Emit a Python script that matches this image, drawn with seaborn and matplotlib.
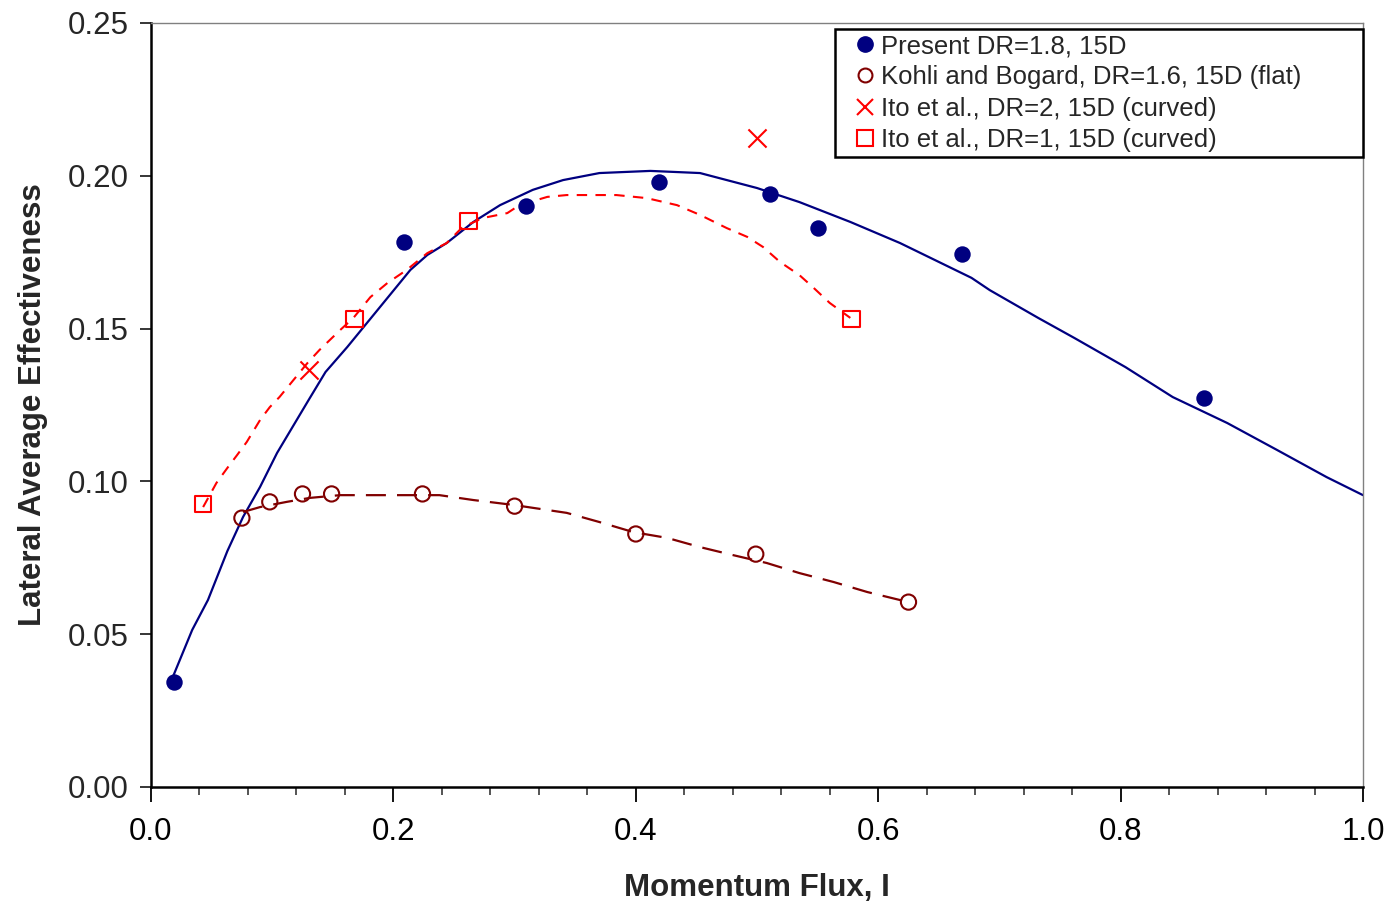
import matplotlib
matplotlib.use("Agg")
import matplotlib.pyplot as plt
import seaborn as sns
import pandas as pd
from matplotlib.ticker import MultipleLocator, FormatStrFormatter
from matplotlib.lines import Line2D

# ---- data ----
present_x = [0.019, 0.209, 0.309, 0.419, 0.511, 0.550, 0.669, 0.869]
present_y = [0.0344, 0.1783, 0.190, 0.198, 0.194, 0.183, 0.1744, 0.1273]

kohli_x = [0.075, 0.098, 0.125, 0.149, 0.224, 0.300, 0.400, 0.499, 0.625]
kohli_y = [0.088, 0.0933, 0.0959, 0.0959, 0.0959, 0.0919, 0.0828, 0.0762, 0.0605]

ito2_x = [0.130, 0.500]
ito2_y = [0.1365, 0.2124]

ito1_x = [0.043, 0.168, 0.262, 0.578]
ito1_y = [0.0926, 0.1531, 0.1852, 0.1531]

# trend curves
present_fit_x = [0.018, 0.034, 0.047, 0.063, 0.076, 0.090, 0.104, 0.130, 0.144, 0.162,
                 0.214, 0.228, 0.244, 0.266, 0.288, 0.315, 0.340, 0.370, 0.412, 0.453,
                 0.500, 0.535, 0.577, 0.618, 0.677, 0.692, 0.732, 0.762, 0.804, 0.843,
                 0.888, 0.929, 0.970, 1.000]
present_fit_y = [0.0360, 0.0514, 0.0612, 0.0772, 0.0884, 0.0982, 0.1093, 0.1266, 0.1358, 0.1440,
                 0.1692, 0.1741, 0.1780, 0.1849, 0.1904, 0.1954, 0.1986, 0.2009, 0.2016, 0.2009,
                 0.1960, 0.1914, 0.1849, 0.1780, 0.1666, 0.1626, 0.1535, 0.1469, 0.1374, 0.1276,
                 0.1191, 0.1103, 0.1014, 0.0955]

ito1_fit_x = [0.043, 0.054, 0.063, 0.071, 0.079, 0.090, 0.098, 0.106, 0.129, 0.139,
              0.156, 0.167, 0.181, 0.195, 0.211, 0.228, 0.244, 0.257, 0.274, 0.294,
              0.304, 0.327, 0.343, 0.384, 0.409, 0.434, 0.453, 0.475, 0.492, 0.505,
              0.519, 0.535, 0.546, 0.560, 0.577]
ito1_fit_y = [0.0916, 0.0995, 0.1044, 0.1086, 0.1129, 0.1201, 0.1243, 0.1276, 0.1387, 0.1430,
              0.1495, 0.1535, 0.1603, 0.1649, 0.1692, 0.1747, 0.1780, 0.1832, 0.1862, 0.1878,
              0.1904, 0.1931, 0.1937, 0.1937, 0.1927, 0.1904, 0.1872, 0.1829, 0.1800, 0.1767,
              0.1718, 0.1675, 0.1636, 0.1584, 0.1535]

kohli_fit_x = [0.076, 0.090, 0.112, 0.131, 0.156, 0.238, 0.266, 0.299, 0.343, 0.370,
               0.398, 0.426, 0.453, 0.480, 0.508, 0.535, 0.563, 0.591, 0.625]
kohli_fit_y = [0.0900, 0.0916, 0.0933, 0.0946, 0.0955, 0.0955, 0.0939, 0.0923, 0.0897, 0.0867,
               0.0834, 0.0815, 0.0785, 0.0759, 0.0733, 0.0700, 0.0671, 0.0638, 0.0605]

labels = ["Present DR=1.8, 15D",
          "Kohli and Bogard, DR=1.6, 15D (flat)",
          "Ito et al., DR=2, 15D (curved)",
          "Ito et al., DR=1, 15D (curved)"]

NAVY = "#000080"
DRED = "#800000"
RED = "#FF0000"

sns.set_theme(style="white")
plt.rcParams['font.family'] = ['Liberation Sans', 'DejaVu Sans']

fig = plt.figure(figsize=(13.87, 9.02), dpi=100)
ax = fig.add_axes([151/1387, 115/902, (1363-151)/1387, (787-23)/902])

# curves
sns.lineplot(x=present_fit_x, y=present_fit_y, ax=ax, sort=False, estimator=None,
             color=NAVY, lw=1.6, zorder=2)
sns.lineplot(x=ito1_fit_x, y=ito1_fit_y, ax=ax, sort=False, estimator=None,
             color=RED, lw=1.5, zorder=2).lines[-1].set_dashes([5, 4])
sns.lineplot(x=kohli_fit_x, y=kohli_fit_y, ax=ax, sort=False, estimator=None,
             color=DRED, lw=1.6, zorder=2).lines[-1].set_dashes([9, 5])

# markers
sns.scatterplot(x=present_x, y=present_y, ax=ax, marker="o", s=140,
                color=NAVY, edgecolor=NAVY, linewidth=0, zorder=4)
sns.scatterplot(x=kohli_x, y=kohli_y, ax=ax, marker="o", s=120,
                facecolor="none", edgecolor=DRED, linewidth=1.5, zorder=4)
sns.scatterplot(x=ito2_x, y=ito2_y, ax=ax, marker="x", s=170,
                color=RED, linewidth=1.5, zorder=4)
sns.scatterplot(x=ito1_x, y=ito1_y, ax=ax, marker="s", s=140,
                facecolor="none", edgecolor=RED, linewidth=1.5, zorder=4)

ax.set_xlim(0, 1.0)
ax.set_ylim(0, 0.25)
ax.xaxis.set_major_locator(MultipleLocator(0.2))
ax.xaxis.set_minor_locator(MultipleLocator(0.04))
ax.yaxis.set_major_locator(MultipleLocator(0.05))
ax.xaxis.set_major_formatter(FormatStrFormatter('%.1f'))
ax.yaxis.set_major_formatter(FormatStrFormatter('%.2f'))

ax.tick_params(axis='x', which='major', direction='out', length=11, width=1.3,
               labelsize=22.5, pad=10.5, colors='black', bottom=True)
ax.tick_params(axis='x', which='minor', direction='out', length=6, width=1.1,
               bottom=True)
ax.tick_params(axis='y', which='major', direction='out', length=8, width=1.3,
               labelsize=22.5, pad=8, left=True)

for s in ['left', 'bottom']:
    ax.spines[s].set_color('black')
    ax.spines[s].set_linewidth(1.8)
for s in ['top', 'right']:
    ax.spines[s].set_color('#808080')
    ax.spines[s].set_linewidth(1.0)

ax.set_xlabel("Momentum Flux, I", fontsize=22.5, fontweight='bold', labelpad=19)
ax.set_ylabel("Lateral Average Effectiveness", fontsize=22.5, fontweight='bold', labelpad=14)

handles = [
    Line2D([], [], ls='none', marker='o', ms=11, mfc=NAVY, mec=NAVY),
    Line2D([], [], ls='none', marker='o', ms=10, mfc='none', mec=DRED, mew=1.5),
    Line2D([], [], ls='none', marker='x', ms=12, color=RED, mew=1.5),
    Line2D([], [], ls='none', marker='s', ms=11, mfc='none', mec=RED, mew=1.5),
]
x0 = (835 - 151) / 1212
y0 = (787 - 157) / 764
leg = ax.legend(handles, labels, loc='upper left',
                bbox_to_anchor=(x0, y0, 1.0 - x0, (787 - 29) / 764 - y0),
                mode='expand', fontsize=18.5, frameon=True, fancybox=False, framealpha=1,
                edgecolor='black', handlelength=1.9, handletextpad=-0.3,
                labelspacing=0.28, borderpad=0.2, borderaxespad=0)
leg.get_frame().set_linewidth(1.8)

fig.savefig("out.png", dpi=100)
